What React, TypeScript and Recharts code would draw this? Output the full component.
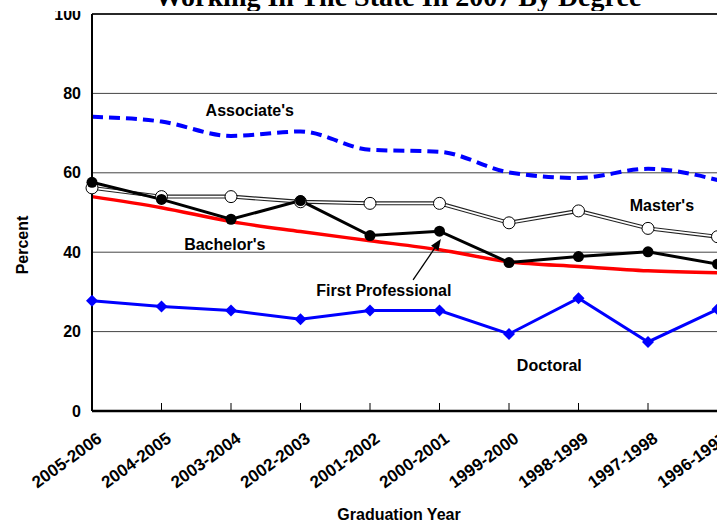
import { LineChart, Line, XAxis, YAxis, CartesianGrid, ReferenceLine, ReferenceDot } from 'recharts';

const categories = ['2005-2006', '2004-2005', '2003-2004', '2002-2003', '2001-2002', '2000-2001', '1999-2000', '1998-1999', '1997-1998', '1996-1997'];
const associates = [74.1, 72.9, 69.3, 70.4, 65.8, 65.3, 60.1, 58.7, 61.0, 58.2];
const masters = [56.2, 54.0, 54.0, 52.7, 52.3, 52.3, 47.4, 50.4, 46.0, 43.9];
const firstProfessional = [57.6, 53.3, 48.3, 53.0, 44.2, 45.3, 37.4, 38.9, 40.1, 37.0];
const bachelors = [54.0, 51.2, 47.7, 45.2, 42.9, 40.6, 37.6, 36.4, 35.3, 34.8];
const doctoral = [27.8, 26.3, 25.3, 23.1, 25.3, 25.3, 19.4, 28.4, 17.4, 25.6];

const yTicks = [0, 20, 40, 60, 80, 100];

// where the series names sit, in data units (x = category index)
const seriesLabels = [
  { name: "Associate's", x: 2.27, y: 75.8 },
  { name: "Master's", x: 8.2, y: 51.9 },
  { name: "Bachelor's", x: 1.91, y: 42.0 },
  { name: 'First Professional', x: 4.2, y: 30.5 },
  { name: 'Doctoral', x: 6.58, y: 11.6 },
];
const arrowFrom = { x: 4.62, y: 33 };
const arrowTo = { x: 5.02, y: 43.3 };

const data = categories.map((c, i) => ({
  i,
  year: c,
  associates: associates[i],
  masters: masters[i],
  firstProfessional: firstProfessional[i],
  bachelors: bachelors[i],
  doctoral: doctoral[i],
}));

const FONT = '"Liberation Sans", Arial, sans-serif';

function XTick(props: any) {
  const { x, y, payload } = props;
  const label = categories[payload.value];
  if (label === undefined) return null;
  const ax = x + 11;
  const ay = y + 30;
  return (
    <g>
      <line x1={x} x2={x} y1={y - 8} y2={y} stroke="#000" strokeWidth={1} />
      <text
        x={ax}
        y={ay}
        textAnchor="end"
        transform={`rotate(-36 ${ax} ${ay})`}
        fontFamily={FONT}
        fontWeight="bold"
        fontSize={17}
        fill="#000"
      >
        {label}
      </text>
    </g>
  );
}

function Diamond(props: any) {
  const { cx, cy } = props;
  if (cx == null || cy == null) return null;
  const s = 6;
  return <polygon points={`${cx},${cy - s} ${cx + s},${cy} ${cx},${cy + s} ${cx - s},${cy}`} fill="#0000ff" />;
}

function Arrow(props: any) {
  const { x1, y1, x2, y2 } = props;
  const dx = x2 - x1;
  const dy = y2 - y1;
  const len = Math.sqrt(dx * dx + dy * dy) || 1;
  const ux = dx / len;
  const uy = dy / len;
  const hl = 11;
  const hw = 4.5;
  const bx = x2 - ux * hl;
  const by = y2 - uy * hl;
  return (
    <g>
      <line x1={x1} y1={y1} x2={bx} y2={by} stroke="#000" strokeWidth={1.3} />
      <polygon
        points={`${x2},${y2} ${bx - uy * hw},${by + ux * hw} ${bx + uy * hw},${by - ux * hw}`}
        fill="#000"
      />
    </g>
  );
}

export default function App() {
  return (
    <div style={{ position: 'fixed', left: 0, top: 0, width: 717, height: 525, overflow: 'hidden', background: '#fff' }}>
      <LineChart width={787} height={525} data={data} margin={{ top: 14, right: 0, bottom: 0, left: 0 }}>
        <CartesianGrid vertical={false} stroke="#444" strokeWidth={1} />
        <ReferenceLine y={100} stroke="#000" strokeWidth={1.5} />
        <XAxis
          dataKey="i"
          type="number"
          domain={[0, 10]}
          ticks={[0, 1, 2, 3, 4, 5, 6, 7, 8, 9]}
          height={114}
          tickSize={0}
          tickMargin={0}
          tickLine={false}
          axisLine={{ stroke: '#000', strokeWidth: 2.5 }}
          tick={<XTick />}
          interval={0}
          label={{
            content: () => (
              <text x={399} y={520} textAnchor="middle" fontFamily={FONT} fontWeight="bold" fontSize={16} fill="#000">
                Graduation Year
              </text>
            ),
          }}
        />
        <YAxis
          domain={[0, 100]}
          ticks={yTicks}
          width={92}
          tickLine={false}
          tickSize={4}
          tickMargin={7}
          axisLine={{ stroke: '#000', strokeWidth: 2 }}
          tick={{ fill: '#000', fontSize: 16, fontWeight: 'bold', fontFamily: FONT }}
          label={{
            content: () => (
              <text
                x={28}
                y={245}
                textAnchor="middle"
                transform="rotate(-90 28 245)"
                fontFamily={FONT}
                fontWeight="bold"
                fontSize={16}
                fill="#000"
              >
                Percent
              </text>
            ),
          }}
        />
        <Line
          type="monotone"
          dataKey="associates"
          stroke="#0000ff"
          strokeWidth={4}
          strokeDasharray="11 6"
          dot={false}
          isAnimationActive={false}
        />
        <Line
          type="linear"
          dataKey="doctoral"
          stroke="#0000ff"
          strokeWidth={3}
          dot={<Diamond />}
          isAnimationActive={false}
        />
        <Line
          type="monotone"
          dataKey="bachelors"
          stroke="#ff0000"
          strokeWidth={3.5}
          dot={false}
          isAnimationActive={false}
        />
        <Line type="linear" dataKey="masters" stroke="#222" strokeWidth={4} dot={false} isAnimationActive={false} />
        <Line
          type="linear"
          dataKey="masters"
          stroke="#fff"
          strokeWidth={1.6}
          dot={{ r: 6, fill: '#fff', stroke: '#000', strokeWidth: 1 }}
          isAnimationActive={false}
        />
        <Line
          type="linear"
          dataKey="firstProfessional"
          stroke="#000"
          strokeWidth={3}
          dot={{ r: 5.5, fill: '#000', stroke: '#000', strokeWidth: 0 }}
          isAnimationActive={false}
        />
        <ReferenceLine
          segment={[arrowFrom, arrowTo]}
          stroke="#000"
          shape={(p: any) => <Arrow {...p} />}
        />
        {seriesLabels.map((l) => (
          <ReferenceDot
            key={l.name}
            x={l.x}
            y={l.y}
            r={0}
            fill="none"
            stroke="none"
            label={{ value: l.name, position: 'center', fill: '#000', fontSize: 16, fontWeight: 'bold', fontFamily: FONT }}
          />
        ))}
      </LineChart>
      <div
        style={{
          position: 'absolute',
          left: 40,
          top: -20,
          width: 677,
          height: 31,
          overflow: 'hidden',
          background: '#fff',
          zIndex: 2,
        }}
      >
        <div
          style={{
            position: 'absolute',
            left: 0,
            top: 3,
            width: 716,
            textAlign: 'center',
            fontFamily: '"Liberation Serif", "Times New Roman", serif',
            fontWeight: 'bold',
            fontSize: 28,
            lineHeight: '28px',
            whiteSpace: 'nowrap',
          }}
        >
          Working In The State In 2007 By Degree
        </div>
      </div>
    </div>
  );
}
